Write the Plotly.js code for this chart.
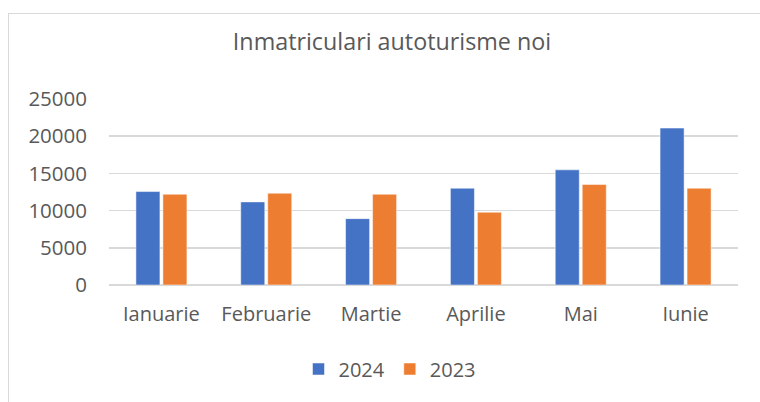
<!DOCTYPE html>
<html>
<head>
<meta charset="utf-8">
<script src="https://cdn.plot.ly/plotly-3.0.1.min.js"></script>
<style>
  html, body { margin: 0; padding: 0; background: #ffffff; }
  #frame { position: absolute; left: 8px; top: 13px; width: 760px; height: 400px;
           border-left: 1px solid #d9d9d9; border-top: 1px solid #d9d9d9; }
  #chart { position: absolute; left: 0; top: 0; width: 760px; height: 402px; }
</style>
</head>
<body>
<div id="frame"></div>
<div id="chart"></div>
<script>
const chartTitle = "Inmatriculari autoturisme noi";
const months = ["Ianuarie", "Februarie", "Martie", "Aprilie", "Mai", "Iunie"];
const seriesNames = ["2024", "2023"];
const values2024 = [12560, 11170, 8920, 13010, 15480, 21090];
const values2023 = [12200, 12340, 12200, 9780, 13500, 13010];
const yTicks = [0, 5000, 10000, 15000, 20000, 25000];

const fontFamily = "'Open Sans', Lato, sans-serif";
const textColor = "#595959";

const traces = [
  { type: "bar", name: seriesNames[0], x: months, y: values2024,
    marker: { color: "#4472C4", line: { color: "#ffffff", width: 0.5 } } },
  { type: "bar", name: seriesNames[1], x: months, y: values2023,
    marker: { color: "#ED7D31", line: { color: "#ffffff", width: 0.5 } } }
];

const layout = {
  width: 760, height: 402,
  paper_bgcolor: "rgba(0,0,0,0)", plot_bgcolor: "rgba(0,0,0,0)",
  margin: { l: 109, r: 22, t: 99, b: 117 },
  barmode: "group", bargap: 0.485, bargroupgap: 0.11,
  font: { family: fontFamily, color: textColor, size: 20 },
  title: { text: chartTitle, font: { family: fontFamily, size: 23.3, color: textColor },
           x: 392 / 760, xanchor: "center", y: 1 - 42 / 402, yanchor: "middle",
           xref: "container", yref: "container" },
  xaxis: { type: "category", showgrid: false, zeroline: false,
           showline: false, ticks: "", ticklabelstandoff: 15,
           tickfont: { size: 20, color: textColor } },
  yaxis: { range: [0, 25000], tickvals: yTicks, ticktext: yTicks.map(String),
           showgrid: true, gridcolor: "#d9d9d9", gridwidth: 1.5,
           zeroline: true, zerolinecolor: "#d9d9d9", zerolinewidth: 1.5,
           showline: false, ticks: "", ticklabelstandoff: 21,
           tickfont: { size: 20.5, color: textColor } },
  showlegend: true,
  legend: { orientation: "h", x: 0.5 + 10 / 760, xref: "container", xanchor: "center",
            y: 1 - 369 / 402, yref: "container", yanchor: "middle",
            font: { size: 20, color: textColor }, itemwidth: 30, traceorder: "normal" },
  hovermode: false
};

Plotly.newPlot("chart", traces, layout, { displayModeBar: false, staticPlot: true });
</script>
</body>
</html>
